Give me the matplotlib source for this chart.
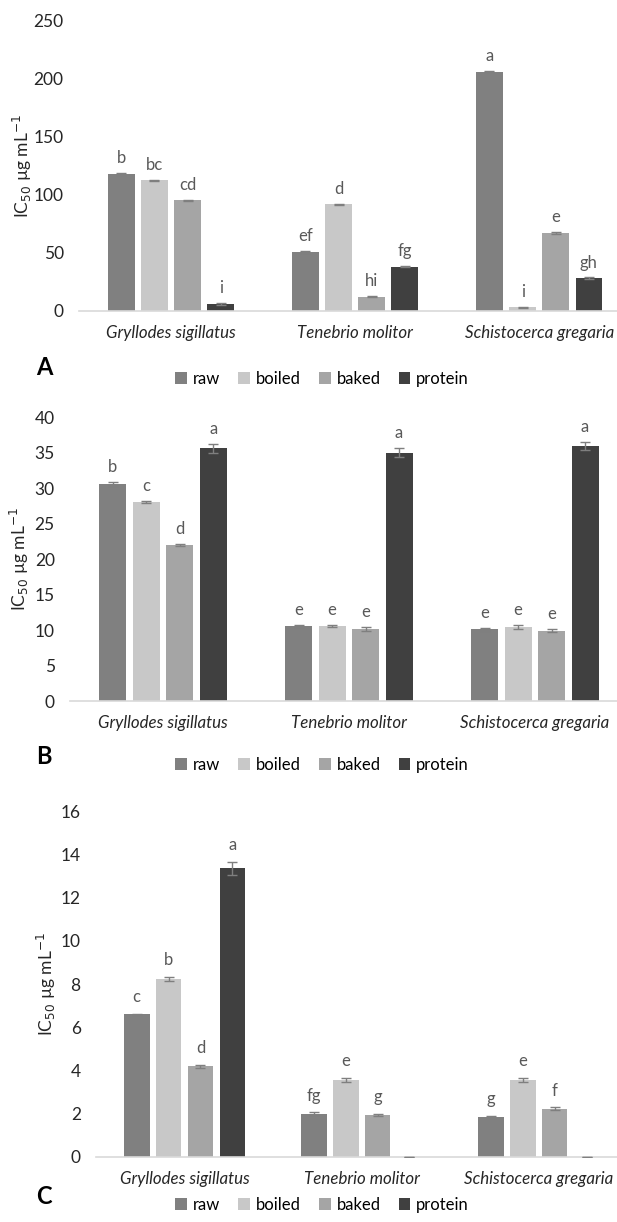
import numpy as np
import matplotlib.pyplot as plt

plt.rcParams['font.family'] = ['Lato', 'DejaVu Sans']

species = ['Gryllodes sigillatus', 'Tenebrio molitor', 'Schistocerca gregaria']
treatments = ['raw', 'boiled', 'baked', 'protein']
colors = ['#808080', '#c8c8c8', '#a5a5a5', '#404040']

# panel A
a_vals = {
    'raw': [117.7, 50.6, 205.7],
    'boiled': [112.3, 91.7, 3.4],
    'baked': [95.1, 12.3, 66.9],
    'protein': [6.0, 38.0, 28.3],
}
a_err = {
    'raw': [0.8, 0.6, 0.6],
    'boiled': [0.6, 0.5, 0.4],
    'baked': [0.6, 0.5, 0.6],
    'protein': [0.5, 0.6, 0.5],
}
a_letters = {
    'raw': ['b', 'ef', 'a'],
    'boiled': ['bc', 'd', 'i'],
    'baked': ['cd', 'hi', 'e'],
    'protein': ['i', 'fg', 'gh'],
}

# panel B
b_vals = {
    'raw': [30.6, 10.6, 10.1],
    'boiled': [28.0, 10.6, 10.4],
    'baked': [22.0, 10.1, 9.9],
    'protein': [35.6, 35.0, 35.9],
}
b_err = {
    'raw': [0.3, 0.15, 0.2],
    'boiled': [0.15, 0.12, 0.3],
    'baked': [0.15, 0.3, 0.2],
    'protein': [0.6, 0.6, 0.6],
}
b_letters = {
    'raw': ['b', 'e', 'e'],
    'boiled': ['c', 'e', 'e'],
    'baked': ['d', 'e', 'e'],
    'protein': ['a', 'a', 'a'],
}

# panel C
c_vals = {
    'raw': [6.6, 2.0, 1.86],
    'boiled': [8.23, 3.57, 3.57],
    'baked': [4.2, 1.95, 2.23],
    'protein': [13.35, 0.0, 0.0],
}
c_err = {
    'raw': [0.03, 0.07, 0.04],
    'boiled': [0.1, 0.1, 0.08],
    'baked': [0.07, 0.04, 0.06],
    'protein': [0.3, 0.02, 0.02],
}
c_letters = {
    'raw': ['c', 'fg', 'g'],
    'boiled': ['b', 'e', 'e'],
    'baked': ['d', 'g', 'f'],
    'protein': ['a', '', ''],
}


def draw_panel(fig, rect, vals, errs, letters, ymax, ystep, pad, tag, tag_xy,
               ylab_x, leg_y):
    ax = fig.add_axes(rect)
    x = np.arange(len(species))
    width = 0.145
    step = 0.18
    for i, t in enumerate(treatments):
        pos = x + (i - 1.5) * step
        ax.bar(pos, vals[t], width, color=colors[i], label=t, zorder=2)
        ax.errorbar(pos, vals[t], yerr=errs[t], fmt='none', ecolor='#7f7f7f',
                    elinewidth=1.0, capsize=3.5, capthick=1.0, zorder=3)
        for xp, v, e, lab in zip(pos, vals[t], errs[t], letters[t]):
            if lab:
                ax.text(xp, v + e + pad, lab, ha='center', va='bottom',
                        fontsize=12, color='#595959')
    ax.set_xlim(-0.5, 2.5)
    ax.set_ylim(0, ymax)
    ax.set_yticks(np.arange(0, ymax + ystep / 2, ystep))
    ax.set_xticks(x)
    ax.set_xticklabels(species, fontstyle='italic', fontsize=12.2)
    ax.tick_params(axis='y', length=0, labelsize=12.5, labelcolor='#262626', pad=11)
    ax.tick_params(axis='x', length=0, labelcolor='#262626', pad=10)
    for s in ['top', 'right', 'left']:
        ax.spines[s].set_visible(False)
    ax.spines['bottom'].set_color('#d9d9d9')
    ax.spines['bottom'].set_linewidth(1.2)
    ax.set_ylabel(r'IC$_{50}$ µg mL$^{-1}$', fontsize=12.5, color='#262626')
    ax.yaxis.set_label_coords(ylab_x, 0.5)
    fig.text(tag_xy[0], tag_xy[1], tag, fontsize=17, fontweight='bold',
             ha='left', va='center')
    fig.legend(*ax.get_legend_handles_labels(), loc='center',
               bbox_to_anchor=(0.522, leg_y), ncol=4, frameon=False,
               fontsize=12, handlelength=0.7, handleheight=0.7,
               handletextpad=0.35, columnspacing=1.1)
    return ax


fig = plt.figure(figsize=(6.17, 12.22), dpi=100)

draw_panel(fig, [0.128, 0.7455, 0.895, 0.238], a_vals, a_err, a_letters,
           250, 50, 6, 'A', (0.058, 1 - 368 / 1222), -0.081, 1 - 379 / 1222)
draw_panel(fig, [0.1135, 0.4263, 0.904, 0.2324], b_vals, b_err, b_letters,
           40, 5, 1.0, 'B', (0.058, 1 - 757 / 1222), -0.07, 1 - 765 / 1222)
draw_panel(fig, [0.1556, 0.0532, 0.861, 0.283], c_vals, c_err, c_letters,
           16, 2, 0.4, 'C', (0.058, 1 - 1196 / 1222), -0.072, 1 - 1205 / 1222)

fig.savefig('out.png', dpi=100)
